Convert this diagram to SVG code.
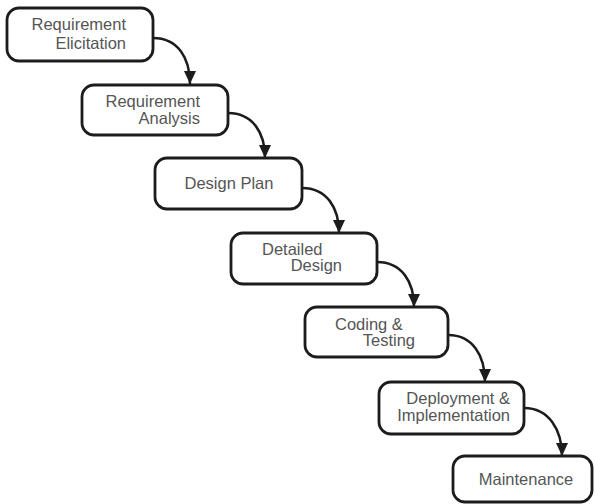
<svg xmlns="http://www.w3.org/2000/svg" width="595" height="504" viewBox="0 0 595 504">
<defs>
<style>
.box{fill:#ffffff;stroke:#1c1c1c;stroke-width:2.8}
.t{font-family:"Liberation Sans",Arial,sans-serif;font-size:16.5px;fill:#555555}
.e{text-anchor:end}
.m{text-anchor:middle}
.c{fill:none;stroke:#1c1c1c;stroke-width:2.5;marker-end:url(#ah)}
</style>
<marker id="ah" markerUnits="userSpaceOnUse" markerWidth="13" markerHeight="12" refX="13" refY="6" orient="auto" viewBox="0 0 13 12">
<path d="M0,0 L13,6 L0,12 Z" fill="#1c1c1c"/>
</marker>
</defs>
<rect width="595" height="504" fill="#ffffff"/>
<g id="connectors">
<path class="c" d="M153,38 C178,38 190,58 190,84"/>
<path class="c" d="M228,113 C253,113 265,133 265,158"/>
<path class="c" d="M302,188 C327,188 339,208 339,233"/>
<path class="c" d="M377,262 C402,262 414,282 414,307"/>
<path class="c" d="M448,335 C473,335 485,356 485,382"/>
<path class="c" d="M524,408 C549,408 562,430 562,456"/>
</g>
<g id="n1">
<rect class="box" x="7" y="8" width="146" height="53" rx="12"/>
<text class="t e" x="126" y="30">Requirement</text>
<text class="t e" x="126" y="49">Elicitation</text>
</g>
<g id="n2">
<rect class="box" x="82" y="85" width="146" height="50" rx="12"/>
<text class="t e" x="200" y="107">Requirement</text>
<text class="t e" x="200" y="124">Analysis</text>
</g>
<g id="n3">
<rect class="box" x="155" y="158" width="147" height="51" rx="12"/>
<text class="t m" x="229" y="189">Design Plan</text>
</g>
<g id="n4">
<rect class="box" x="231" y="233" width="146" height="51" rx="12"/>
<text class="t" x="262" y="255">Detailed</text>
<text class="t e" x="342" y="271">Design</text>
</g>
<g id="n5">
<rect class="box" x="305" y="307" width="143" height="50" rx="12"/>
<text class="t" x="335" y="330">Coding &amp;</text>
<text class="t e" x="415" y="346">Testing</text>
</g>
<g id="n6">
<rect class="box" x="379" y="382" width="145" height="52" rx="12"/>
<text class="t e" x="510" y="404">Deployment &amp;</text>
<text class="t e" x="510" y="421">Implementation</text>
</g>
<g id="n7">
<rect class="box" x="453" y="456" width="139" height="46" rx="12"/>
<text class="t m" x="526" y="485">Maintenance</text>
</g>
</svg>
